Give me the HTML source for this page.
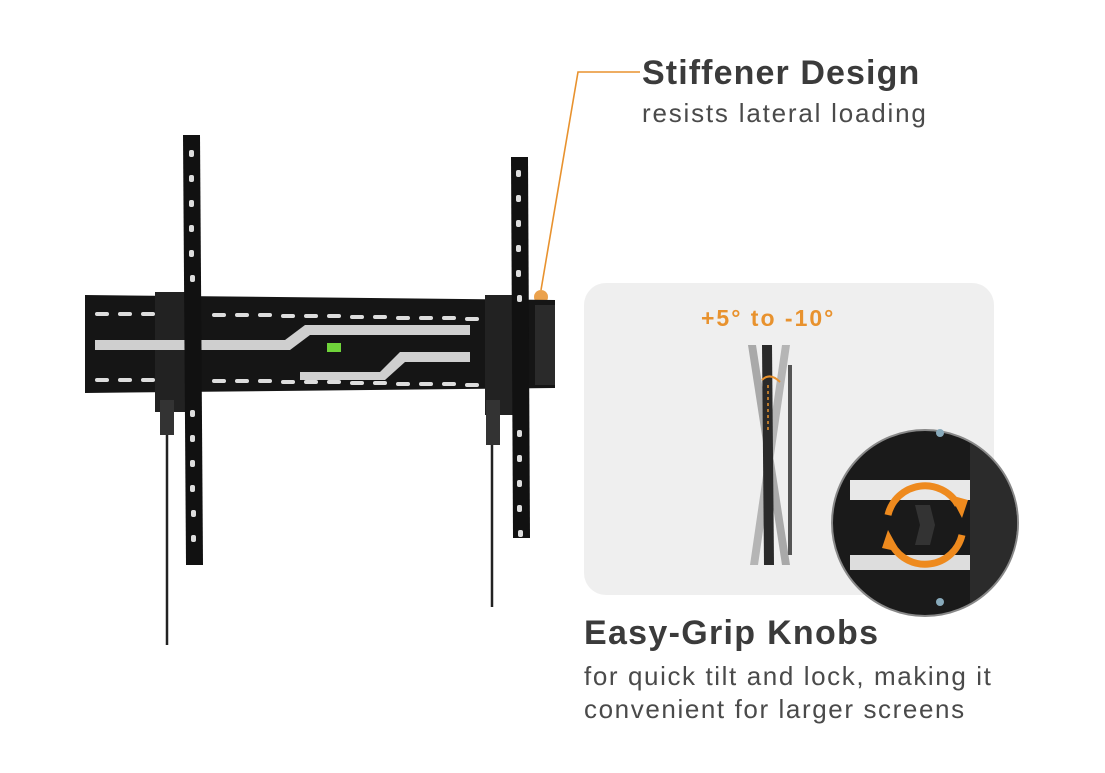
<!DOCTYPE html>
<html><head><meta charset="utf-8"><style>
html,body{margin:0;padding:0;background:#fff;}
body{width:1105px;height:773px;position:relative;overflow:hidden;font-family:"Liberation Sans",sans-serif;}
.t{position:absolute;color:#3b3b3b;white-space:nowrap;}
</style></head><body>
<svg width="1105" height="773" style="position:absolute;left:0;top:0">
  <defs><clipPath id="cc"><circle cx="925" cy="523" r="92"/></clipPath></defs>
  <polyline points="640,72 578,72 541,290" fill="none" stroke="#e8922e" stroke-width="1.6"/>
  <circle cx="541" cy="297" r="7" fill="#e8922e" opacity="0.85"/>
  <rect x="584" y="283" width="410" height="312" rx="22" fill="#efefef"/>
  <polygon points="85,295 555,300 555,388 85,393" fill="#151515"/>
  <rect x="155" y="292" width="30" height="120" fill="#222"/>
  <rect x="485" y="295" width="35" height="120" fill="#222"/>
  <rect x="535" y="305" width="20" height="80" fill="#2a2a2a"/>
  <g fill="#ddd">
    <g id="r1">
      <rect x="95" y="312" width="14" height="4" rx="2"/><rect x="118" y="312" width="14" height="4" rx="2"/>
      <rect x="141" y="312" width="14" height="4" rx="2"/><rect x="212" y="313" width="14" height="4" rx="2"/>
      <rect x="235" y="313" width="14" height="4" rx="2"/><rect x="258" y="313" width="14" height="4" rx="2"/>
      <rect x="281" y="314" width="14" height="4" rx="2"/><rect x="304" y="314" width="14" height="4" rx="2"/>
      <rect x="327" y="314" width="14" height="4" rx="2"/><rect x="350" y="315" width="14" height="4" rx="2"/>
      <rect x="373" y="315" width="14" height="4" rx="2"/><rect x="396" y="316" width="14" height="4" rx="2"/>
      <rect x="419" y="316" width="14" height="4" rx="2"/><rect x="442" y="316" width="14" height="4" rx="2"/>
      <rect x="465" y="317" width="14" height="4" rx="2"/>
    </g>
    <use href="#r1" y="66"/>
  </g>
  <polygon points="95,340 285,340 305,325 470,325 470,335 310,335 290,350 95,350" fill="#cfcfcf"/>
  <polygon points="300,372 380,372 400,352 470,352 470,362 405,362 385,380 300,380" fill="#cfcfcf"/>
  <rect x="327" y="343" width="14" height="9" fill="#6fd33a"/>
  <polygon points="183,135 200,135 203,565 186,565" fill="#111"/>
  <polygon points="511,157 528,157 530,538 513,538" fill="#111"/>
  <g fill="#ddd">
    <g id="h1">
      <rect x="189" y="150" width="5" height="7" rx="2"/><rect x="189" y="175" width="5" height="7" rx="2"/>
      <rect x="189" y="200" width="5" height="7" rx="2"/><rect x="189" y="225" width="5" height="7" rx="2"/>
      <rect x="189" y="250" width="5" height="7" rx="2"/><rect x="190" y="275" width="5" height="7" rx="2"/>
      <rect x="190" y="410" width="5" height="7" rx="2"/><rect x="190" y="435" width="5" height="7" rx="2"/>
      <rect x="190" y="460" width="5" height="7" rx="2"/><rect x="190" y="485" width="5" height="7" rx="2"/>
      <rect x="191" y="510" width="5" height="7" rx="2"/>
    </g>
    <rect x="191" y="535" width="5" height="7" rx="2"/>
    <use href="#h1" x="327" y="20"/>
  </g>
  <line x1="167" y1="410" x2="167" y2="645" stroke="#222" stroke-width="2.5"/>
  <line x1="492" y1="440" x2="492" y2="607" stroke="#222" stroke-width="2.5"/>
  <rect x="160" y="400" width="14" height="35" fill="#333"/>
  <rect x="486" y="400" width="14" height="45" fill="#333"/>
  <polygon points="748,345 756,345 790,565 782,565" fill="#a9a9a9"/>
  <polygon points="782,345 790,345 758,565 750,565" fill="#b5b5b5"/>
  <polygon points="762,345 772,345 774,565 764,565" fill="#2a2a2a"/>
  <rect x="788" y="365" width="4" height="190" fill="#555"/>
  <path d="M762 380 Q770 372 780 382" fill="none" stroke="#e8922e" stroke-width="2"/>
  <line x1="768" y1="385" x2="768" y2="430" stroke="#e8922e" stroke-width="1.5" stroke-dasharray="3,3"/>
  <circle cx="925" cy="523" r="93" fill="#1a1a1a" stroke="#888" stroke-width="2"/>
  <g clip-path="url(#cc)">
    <rect x="970" y="420" width="60" height="210" fill="#2b2b2b"/>
    <rect x="850" y="480" width="120" height="20" fill="#e8e8e8"/>
    <rect x="850" y="555" width="120" height="15" fill="#ddd"/>
  </g>
  <circle cx="940" cy="433" r="4" fill="#8ab"/>
  <circle cx="940" cy="602" r="4" fill="#8ab"/>
  <path d="M888 515 A38 38 0 0 1 958 505" fill="none" stroke="#ee8a1e" stroke-width="7"/>
  <path d="M962 535 A38 38 0 0 1 892 545" fill="none" stroke="#ee8a1e" stroke-width="7"/>
  <polygon points="950,495 968,500 962,518" fill="#ee8a1e"/>
  <polygon points="900,552 882,548 888,530" fill="#ee8a1e"/>
  <path d="M915 505 L930 505 L935 525 L930 545 L915 545 L920 525 Z" fill="#333"/>
</svg>
<div class="t" style="left:642px;top:54px;font-size:34px;font-weight:bold;letter-spacing:1.1px;">Stiffener Design</div>
<div class="t" style="left:642px;top:98px;font-size:26px;color:#4a4a4a;letter-spacing:1.8px;">resists lateral loading</div>
<div class="t" style="left:701px;top:305px;font-size:23px;font-weight:bold;color:#e8922e;letter-spacing:2px;">+5° to -10°</div>
<div class="t" style="left:584px;top:614px;font-size:34px;font-weight:bold;letter-spacing:1.3px;">Easy-Grip Knobs</div>
<div class="t" style="left:584px;top:660px;font-size:26px;color:#4a4a4a;line-height:33px;letter-spacing:1.6px;">for quick tilt and lock, making it<br>convenient for larger screens</div>
</body></html>
